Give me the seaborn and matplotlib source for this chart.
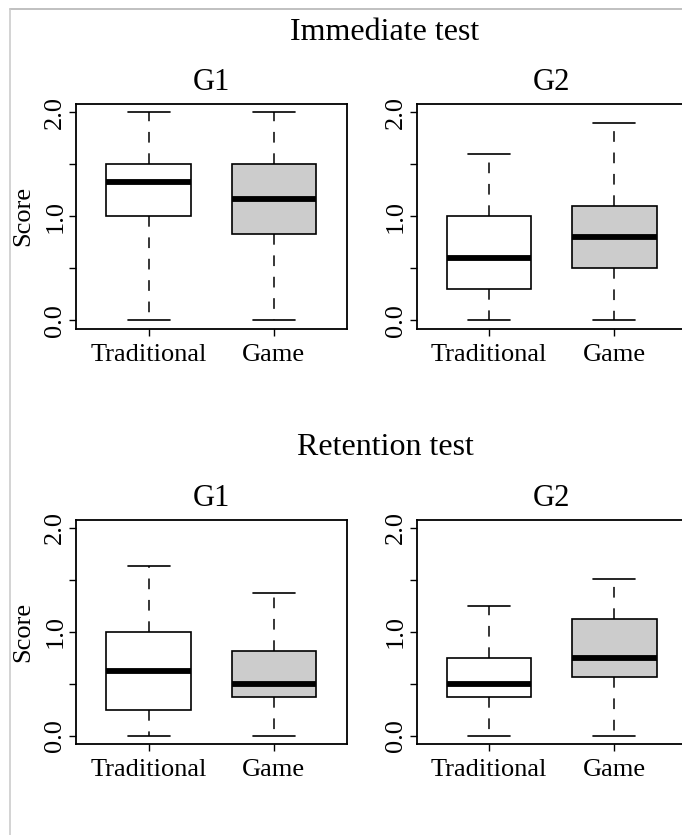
import numpy as np
import pandas as pd
import matplotlib
matplotlib.use('Agg')
import matplotlib.pyplot as plt
import seaborn as sns
from matplotlib.lines import Line2D

# 数据: 每个箱子的五数概括 (min, Q1, median, Q3, max)
methods = ['Traditional', 'Game']
groups = ['G1', 'G2']
tests = ['Immediate test', 'Retention test']

imm_g1_trad = [0.0, 1.00, 1.33, 1.50, 2.00]
imm_g1_game = [0.0, 0.83, 1.165, 1.50, 2.00]
imm_g2_trad = [0.0, 0.30, 0.60, 1.00, 1.60]
imm_g2_game = [0.0, 0.50, 0.80, 1.10, 1.90]

ret_g1_trad = [0.0, 0.25, 0.627, 1.00, 1.63]
ret_g1_game = [0.0, 0.375, 0.50, 0.817, 1.376]
ret_g2_trad = [0.0, 0.375, 0.50, 0.75, 1.25]
ret_g2_game = [0.0, 0.565, 0.751, 1.127, 1.506]

summaries = {
    ('Immediate test', 'G1'): [imm_g1_trad, imm_g1_game],
    ('Immediate test', 'G2'): [imm_g2_trad, imm_g2_game],
    ('Retention test', 'G1'): [ret_g1_trad, ret_g1_game],
    ('Retention test', 'G2'): [ret_g2_trad, ret_g2_game],
}

yticks = [0.0, 0.5, 1.0, 1.5, 2.0]
ytick_labels = ['0.0', '', '1.0', '', '2.0']
box_colors = ['white', '#cccccc']

rows = []
for (test, grp), boxes in summaries.items():
    for m, vals in zip(methods, boxes):
        for v in vals:
            rows.append({'test': test, 'group': grp, 'method': m, 'score': v})
df = pd.DataFrame(rows)

sns.set_style('white')
plt.rcParams['font.family'] = ['Liberation Serif', 'DejaVu Serif']
plt.rcParams['text.color'] = 'black'
plt.rcParams['axes.labelcolor'] = 'black'

W, H = 682, 835
fig = plt.figure(figsize=(W / 100, H / 100), dpi=100)

# 面板位置 (像素)
lefts = [76, 416.5]
tops = [104, 519.5]
aw, ah = 270.5, 224.5
title_base = [40, 455]

for i, test in enumerate(tests):
    fig.text(385 / W, 1 - title_base[i] / H, test, ha='center', va='baseline',
             fontsize=23, color='black')
    for j, grp in enumerate(groups):
        ax = fig.add_axes([lefts[j] / W, 1 - (tops[i] + ah) / H, aw / W, ah / H])
        sub = df[(df['test'] == test) & (df['group'] == grp)]
        sns.boxplot(data=sub, x='method', y='score', hue='method', order=methods,
                    hue_order=methods, palette=box_colors, saturation=1, legend=False,
                    whis=(0, 100), width=0.675, linecolor='black', linewidth=1.2,
                    showfliers=False, ax=ax,
                    medianprops=dict(color='black', linewidth=4.2, solid_capstyle='butt'),
                    whiskerprops=dict(color='black', linewidth=1.1, linestyle=(0, (7, 7))),
                    capprops=dict(color='black', linewidth=1.2))
        ax.set_xlim(-0.58, 1.58)
        ax.set_ylim(-0.08, 2.08)
        ax.set_yticks(yticks)
        ax.set_yticklabels(ytick_labels, rotation=90, va='center')
        ax.set_xticks([0, 1])
        ax.set_xticklabels(methods)
        ax.tick_params(axis='both', direction='out', length=5, width=1.0,
                       labelsize=19, color='black', labelcolor='black',
                       left=True, bottom=True)
        ax.tick_params(axis='x', pad=6)
        ax.tick_params(axis='y', pad=2)
        ax.set_xlabel('')
        for s in ax.spines.values():
            s.set_visible(True)
            s.set_color('black')
            s.set_linewidth(1.3)
        ax.set_title(grp, fontsize=22, pad=10, color='black')
        if j == 0:
            ax.set_ylabel('Score', fontsize=19, color='black')
            ax.yaxis.set_label_coords(-0.155, 0.5)
        else:
            ax.set_ylabel('')

# 截图的灰色边框
fig.add_artist(Line2D([9.5 / W, 1], [1 - 9 / H, 1 - 9 / H], color='#c0c0c0', lw=1.4))
fig.add_artist(Line2D([9.5 / W, 9.5 / W], [0, 1 - 9 / H], color='#c8c8c8', lw=1.1))

fig.savefig('out.png', dpi=100)
